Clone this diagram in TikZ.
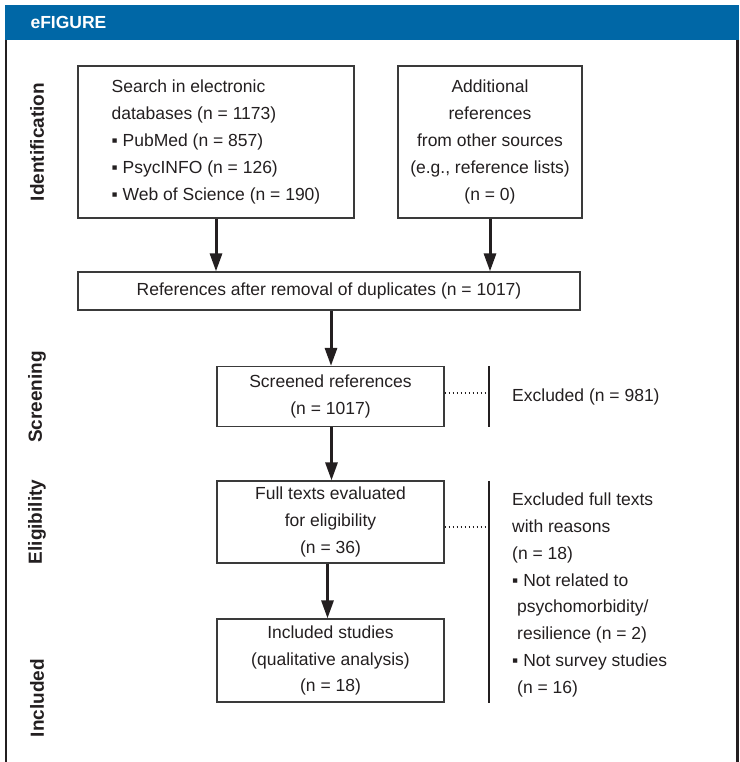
\documentclass[tikz,border=0pt]{standalone}
\usepackage{fontspec}
\setmainfont{Liberation Sans}
\usetikzlibrary{arrows.meta,positioning}
\definecolor{header_blue}{HTML}{0067A6}
\definecolor{box_grey}{HTML}{3A3A3A}
\definecolor{text_grey}{HTML}{231F20}

\begin{document}
\begin{tikzpicture}[x=1pt,y=1pt,
    box/.style={draw=box_grey, line width=1.2pt, inner sep=0pt, align=center,
      text=text_grey, font=\fontsize{17.5}{26.8}\selectfont},
    flow/.style={draw=text_grey, line width=3pt, -{Triangle[length=18pt,width=12pt]}},
    phase/.style={rotate=90, text=text_grey, font=\fontsize{19}{22}\selectfont\bfseries},
    bar/.style={draw=text_grey, line width=1.8pt},
    link/.style={draw=text_grey, line width=1.6pt, dash pattern=on 1.6pt off 2.4pt},
    note/.style={anchor=west, inner sep=0pt, align=left, text=text_grey,
      font=\fontsize{17.5}{26.8}\selectfont}]
        \useasboundingbox (0,0) rectangle (739,762);
        % Cadre et titre
        \fill[header_blue] (5,722) rectangle (739,757);
        \node[anchor=west, text=white, font=\fontsize{17.5}{20}\selectfont\bfseries] (title) at (27,739.5) {eFIGURE};
        \draw[bar, line width=2.2pt] (6,722) -- (6,0);
        \draw[bar, line width=2.6pt] (737.5,722) -- (737.5,0);

        % Phases
        \node[phase] (ident) at (37,620) {Identification};
        \node[phase] (screen) at (37,365) {Screening};
        \node[phase] (elig) at (37,240) {Eligibility};
        \node[phase] (incl) at (37,64) {Included};

        % Boites
        \node[box, align=left, minimum width=276pt, minimum height=152pt] (search) at (216,620)
            {Search in electronic\\databases (n = 1173)\\▪ PubMed (n = 857)\\▪ PsycINFO (n = 126)\\▪ Web of Science (n = 190)};
        \node[box, minimum width=184pt, minimum height=152pt] (other) at (490,620)
            {Additional\\references\\from other sources\\(e.g., reference lists)\\(n = 0)};
        \node[box, minimum width=502pt, minimum height=38pt] (dupl) at (329,471)
            {References after removal of duplicates (n = 1017)};
        \node[box, minimum width=227pt, minimum height=60pt] (screened) at (330.5,365.5)
            {Screened references\\(n = 1017)};
        \node[box, minimum width=227pt, minimum height=82pt] (fulltext) at (330.5,240)
            {Full texts evaluated\\for eligibility\\(n = 36)};
        \node[box, minimum width=227pt, minimum height=83pt] (included) at (330.5,101.5)
            {Included studies\\(qualitative analysis)\\(n = 18)};

        % Fleches
        \draw[flow] (search.south) -- (search.south |- dupl.north);
        \draw[flow] (other.south) -- (other.south |- dupl.north);
        \draw[flow] ([xshift=2pt]dupl.south) -- ([xshift=2pt]dupl.south |- screened.north);
        \draw[flow] ([xshift=1pt]screened.south) -- ([xshift=1pt]fulltext.north);
        \draw[flow] ([xshift=-3pt]fulltext.south) -- ([xshift=-3pt]included.north);

        % Exclusions
        \coordinate (bar1top) at (489,396);
        \coordinate (bar1bot) at (489,335);
        \coordinate (bar2top) at (489,281);
        \coordinate (bar2bot) at (489,59);
        \draw[bar] (bar1top) -- (bar1bot);
        \draw[bar] (bar2top) -- (bar2bot);
        \draw[link] ([yshift=3.5pt]screened.east) -- ([yshift=3.5pt]screened.east -| bar1top);
        \draw[link] ([yshift=-5pt]fulltext.east) -- ([yshift=-5pt]fulltext.east -| bar2top);
        \node[note] (excl1) at (512,365) {Excluded (n = 981)};
        \node[note] (excl2) at (512,167)
            {Excluded full texts\\with reasons\\(n = 18)\\▪ Not related to\\\hspace{5pt}psychomorbidity/\\\hspace{5pt}resilience (n = 2)\\▪ Not survey studies\\\hspace{5pt}(n = 16)};
\end{tikzpicture}
\end{document}
